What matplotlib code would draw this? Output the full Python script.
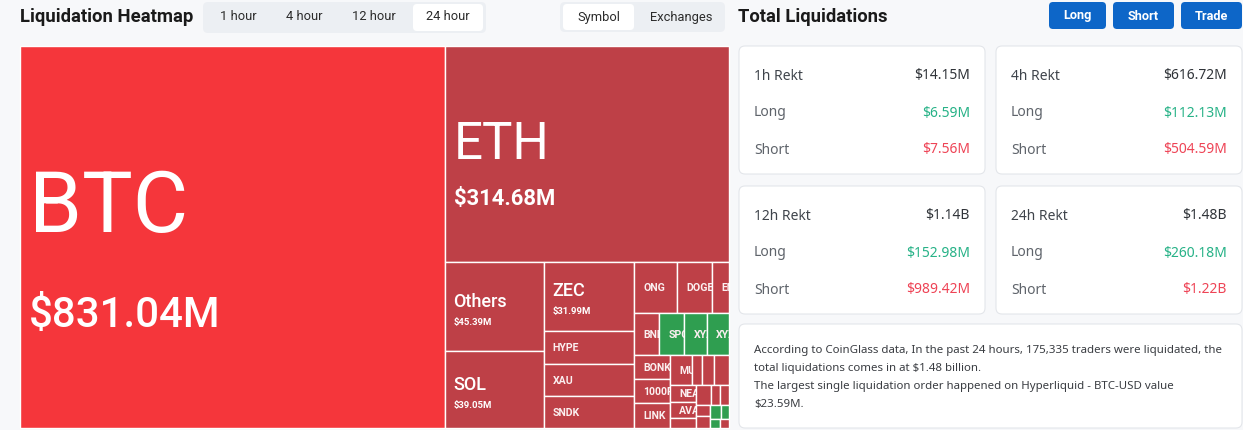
import math
import matplotlib
matplotlib.use("Agg")
import matplotlib.pyplot as plt
from matplotlib.patches import Rectangle, FancyBboxPatch

# liquidation heatmap, 24 hour view (values in $M)
coins = ["BTC", "ETH", "Others", "SOL", "ZEC", "HYPE", "XAU", "SNDK", "ONG", "DOGE", "ENA",
         "BNB", "SPCX", "XYZ:TSLA", "XYZ:MSTR", "BONK", "1000PEPE", "LINK", "MU", "WLD",
         "AAVE", "PEPE", "NEAR", "AVAX", "XRP", "SUI", "TRUMP", "BCH", "CLO", "BTCDOM",
         "KCS", "ADA", "LTC", "UNI"]
liq_usd_m = [831.04, 314.68, 45.39, 39.05, 31.99, 15.5, 14.9, 14.6, 11.3, 9.3, 4.4,
             5.3, 5.3, 4.8, 4.6, 4.6, 4.4, 4.6, 3.4, 1.6,
             2.0, 2.3, 2.2, 2.2, 1.3, 1.4, 0.9, 0.9, 0.8, 0.8,
             0.8, 0.6, 0.5, 0.4]
dominant = ["hot", "short", "short", "short", "short", "short", "short", "short", "short", "short", "short",
            "short", "long", "long", "long", "short", "short", "short", "short", "short",
            "short", "short", "short", "short", "short", "short", "short", "short", "short", "short",
            "long", "long", "long", "short"]

# total liquidations panel (values in $M)
periods = ["1h", "4h", "12h", "24h"]
rekt_total = [14.15, 616.72, 1140, 1480]
rekt_long = [6.59, 112.13, 152.98, 260.18]
rekt_short = [7.56, 504.59, 989.42, 1220]

time_tabs = ["1 hour", "4 hour", "12 hour", "24 hour"]
view_tabs = ["Symbol", "Exchanges"]
buttons = ["Long", "Short", "Trade"]
summary = [
    "According to CoinGlass data, In the past 24 hours, 175,335 traders were liquidated, the",
    "total liquidations comes in at $1.48 billion.",
    "The largest single liquidation order happened on Hyperliquid - BTC-USD value",
    "$23.59M.",
]

PAGE_BG = "#F7F8FA"
TONES = {"hot": "#F5363B", "short": "#BE4047", "long": "#2F9E50"}
GREEN = "#27B287"
RED = "#EE4456"
BLUE = "#0D66C8"
PT = 0.72  # px -> pt at dpi 100

W, H = 1243, 430
fig = plt.figure(figsize=(W / 100, H / 100), dpi=100)
fig.patch.set_facecolor(PAGE_BG)
ax = fig.add_axes([0, 0, 1, 1])
ax.set_xlim(0, W)
ax.set_ylim(H, 0)
ax.axis("off")

GOLDEN = (1 + math.sqrt(5)) / 2


def worst(row, side, ratio):
    s = sum(row)
    f = side * side * ratio
    return max(f * max(row) / (s * s), s * s / (f * min(row)))


def lay_row(row, side, rect, flush):
    x, y, w, h = rect
    along_width = side == w
    thick = sum(row) / side
    room = h if along_width else w
    if flush or thick > room:
        thick = room
    pos = x if along_width else y
    end = pos + (w if along_width else h)
    placed = []
    for k, a in enumerate(row):
        step = a / thick
        if k == len(row) - 1 or end - pos < step:
            step = end - pos
        placed.append((pos, y, step, thick) if along_width else (x, pos, thick, step))
        pos += step
    if along_width:
        return placed, (x, y + thick, w, h - thick)
    return placed, (x + thick, y, w - thick, h)


def squarify(areas, x, y, w, h, ratio=GOLDEN):
    rect = (x, y, w, h)
    side = min(w, h)
    out, row, best = [], [], math.inf
    i = 0
    while i < len(areas):
        row.append(areas[i])
        score = worst(row, side, ratio)
        if score <= best:
            best = score
            i += 1
        else:
            row.pop()
            placed, rect = lay_row(row, side, rect, False)
            out += placed
            side = min(rect[2], rect[3])
            row, best = [], math.inf
    if row:
        placed, rect = lay_row(row, side, rect, True)
        out += placed
    return out


def label_style(w, h):
    # name px, value px, name weight, value weight, name shift, value shift (x name px)
    a = w * h
    if a > 100000:
        return 85, 42, "normal", "medium", -0.06, 1.06
    if a > 30000:
        return 51, 22, "normal", "bold", 0.1, 1.0
    if a > 5000:
        return 18, 9.5, "medium", "bold", 0.0, 1.0
    return 10.5, None, "bold", None, 0.36, 0


# treemap
TM_X, TM_Y, TM_W, TM_H = 20, 46, 709, 382
total = sum(liq_usd_m)
areas = [v / total * TM_W * TM_H for v in liq_usd_m]
cells = squarify(areas, TM_X, TM_Y, TM_W, TM_H)

for name, val, side, (x, y, w, h) in zip(coins, liq_usd_m, dominant, cells):
    rect = Rectangle((x, y), w, h, facecolor=TONES[side], edgecolor="white", linewidth=1.0)
    ax.add_patch(rect)
    if w < 16 or h < 11:
        continue
    fn, fv, wn, wv, dn, dv = label_style(w, h)
    cy = y + h / 2
    tx = x + 9
    t1 = ax.text(tx, cy + dn * fn, name, color="white" if fv else "#FBEFF0",
                 fontsize=fn * PT, fontweight=wn, family="Roboto",
                 va="baseline", ha="left", clip_on=True)
    t1.set_clip_path(rect)
    if fv:
        t2 = ax.text(tx, cy + dv * fn, f"${val:.2f}M", color="white", fontsize=fv * PT,
                     fontweight=wv, family="Roboto", va="baseline", ha="left", clip_on=True)
        t2.set_clip_path(rect)

# header left
ax.text(20, 17, "Liquidation Heatmap", fontsize=13.3, fontweight="bold", family="Roboto",
        color="#1A1A1A", va="center", ha="left")
ax.add_patch(FancyBboxPatch((203, 2), 283, 31, boxstyle="round,pad=0,rounding_size=5",
                            facecolor="#ECEFF3", edgecolor="none"))
ax.add_patch(FancyBboxPatch((413, 4), 70, 27, boxstyle="round,pad=0,rounding_size=4",
                            facecolor="white", edgecolor="none"))
for lbl, cx in zip(time_tabs, [238, 304, 374, 448]):
    ax.text(cx, 17, lbl, fontsize=9.3, family="Roboto", color="#2B2B2B", va="center", ha="center")

ax.add_patch(FancyBboxPatch((560, 2), 165, 30, boxstyle="round,pad=0,rounding_size=5",
                            facecolor="#ECEFF3", edgecolor="none"))
ax.add_patch(FancyBboxPatch((563, 4), 71, 26, boxstyle="round,pad=0,rounding_size=4",
                            facecolor="white", edgecolor="none"))
for lbl, cx in zip(view_tabs, [599, 681]):
    ax.text(cx, 17, lbl, fontsize=9.3, family="Roboto", color="#2B2B2B", va="center", ha="center")

# header right
ax.text(738, 17, "Total Liquidations", fontsize=13.2, fontweight="bold", family="Roboto",
        color="#1A1A1A", va="center", ha="left")
for lbl, (bx, bw) in zip(buttons, [(1049, 57), (1113, 61), (1181, 61)]):
    ax.add_patch(FancyBboxPatch((bx, 2), bw, 27, boxstyle="round,pad=0,rounding_size=4",
                                facecolor=BLUE, edgecolor="none"))
    ax.text(bx + bw / 2, 16, lbl, fontsize=9.2, fontweight="bold", family="Roboto",
            color="white", va="center", ha="center")


def fmt_usd(v):
    if v >= 1000:
        return f"${v / 1000:.2f}B"
    return f"${v:.2f}M"


card_w, card_h = 246, 128
for i, p in enumerate(periods):
    x0 = 739 + (i % 2) * 257
    y0 = 46 + (i // 2) * 140
    ax.add_patch(FancyBboxPatch((x0, y0), card_w, card_h, boxstyle="round,pad=0,rounding_size=6",
                                facecolor="white", edgecolor="#E3E6EA", linewidth=0.8))
    rows = [(f"{p} Rekt", rekt_total[i], "#3F444B", "#2F3338", "medium"),
            ("Long", rekt_long[i], "#5F646B", GREEN, "normal"),
            ("Short", rekt_short[i], "#5F646B", RED, "normal")]
    for k, (lbl, v, lc, vc, lw) in enumerate(rows):
        ty = y0 + 30 + k * 37
        ax.text(x0 + 15, ty, lbl, fontsize=10, family="Noto Sans", fontweight=lw,
                color=lc, va="center", ha="left")
        ax.text(x0 + card_w - 15, ty, fmt_usd(v), fontsize=10, family="Noto Sans",
                color=vc, va="center", ha="right")

ax.add_patch(FancyBboxPatch((739, 324), 503, 104, boxstyle="round,pad=0,rounding_size=6",
                            facecolor="white", edgecolor="#E3E6EA", linewidth=0.8))
for k, line in enumerate(summary):
    ax.text(754, 350 + k * 18, line, fontsize=8.25, family="Noto Sans", color="#3A3D42",
            va="center", ha="left")

fig.savefig("out.png", dpi=100, facecolor=fig.get_facecolor())
